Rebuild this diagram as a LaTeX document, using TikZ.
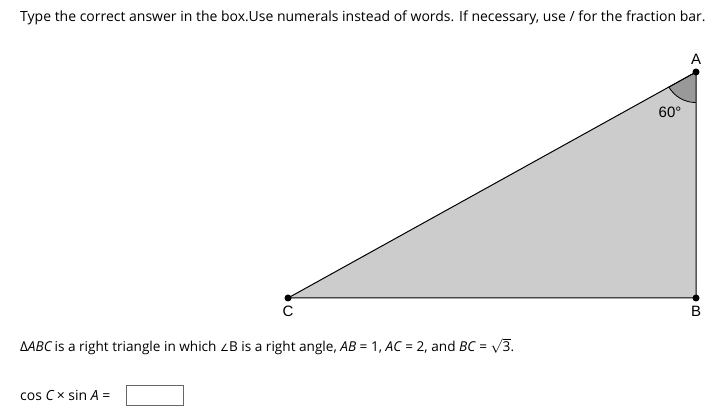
\documentclass[tikz,border=0pt]{standalone}
\usepackage{fontspec}
\setmainfont{Open Sans}
\newfontfamily\labelfont{Liberation Sans}
\newfontfamily\symfont{DejaVu Sans}
\usepackage{tikz}
\usetikzlibrary{positioning, calc}
\definecolor{trifill}{HTML}{CCCCCC}
\definecolor{anglefill}{HTML}{999999}

\begin{document}
\begin{tikzpicture}[x=1pt, y=-1pt, vertex/.style={circle, fill=black, inner sep=0pt, minimum size=7pt},
  ptlabel/.style={font=\labelfont\fontsize{15}{17}\selectfont, inner sep=1pt},
  txt/.style={anchor=west, inner sep=0pt, font=\fontsize{14}{17}\selectfont}]

\useasboundingbox (0,0) rectangle (723,411);

\coordinate (A) at (696,72);
\coordinate (B) at (696,298);
\coordinate (C) at (288,298);

% triangle and angle mark
\fill[trifill] (A) -- (B) -- (C) -- cycle;
\fill[anglefill] (A) -- ($(A)!31pt!(C)$) arc[start angle=150, end angle=90, radius=31] -- cycle;
\draw[black, line width=0.8pt] (A) -- ($(A)!31pt!(C)$) arc[start angle=150, end angle=90, radius=31];
\draw[line width=1pt] (A) -- (B) -- (C) -- cycle;

\node[vertex] (vA) at (A) {};
\node[vertex] (vB) at (B) {};
\node[vertex] (vC) at (C) {};

\node[ptlabel, above=3pt of vA] (lA) {A};
\node[ptlabel, below=3pt of vB] (lB) {B};
\node[ptlabel, below=3pt of vC] (lC) {C};
\node[ptlabel] (ang) at (670,112) {60°};

% question text
\node[txt] (q1) at (20,18) {Type the correct answer in the box.Use numerals instead of words. If necessary, use / for the fraction bar.};
\node[txt, font=\fontsize{13.6}{17}\selectfont] (q2) at (20,347) {Δ\textit{ABC}\,is a right triangle in which {\symfont\fontsize{10}{12}\selectfont∠}B is a right angle, \textit{AB} = 1, \textit{AC} = 2, and \textit{BC} = $\sqrt{\mbox{3}}$.};
\node[txt] (q3) at (20,395) {cos \textit{C}\,× sin \textit{A} =};
\node[draw=black!60, line width=0.6pt, minimum width=57pt, minimum height=20pt, inner sep=0pt] (box) at (154.5,395) {};

\end{tikzpicture}
\end{document}
